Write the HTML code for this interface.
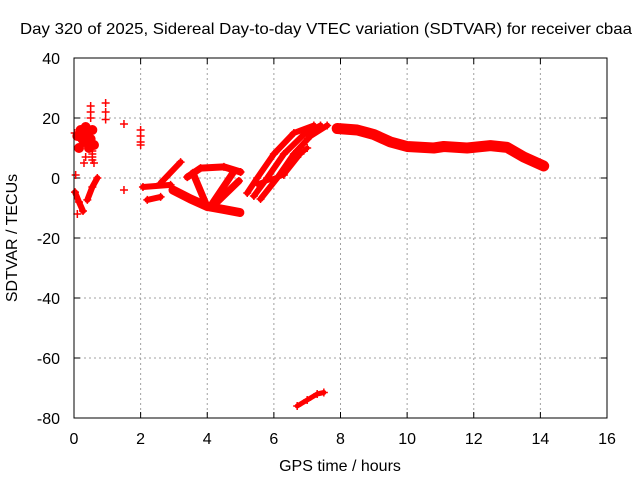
<!DOCTYPE html>
<html><head><meta charset="utf-8"><style>
body{margin:0;background:#fff}
svg{font-family:"Liberation Sans",sans-serif;font-size:16px}
</style></head><body>
<svg id="c" width="640" height="480">
<text x="326" y="34" text-anchor="middle" textLength="612" lengthAdjust="spacingAndGlyphs">Day 320 of 2025, Sidereal Day-to-day VTEC variation (SDTVAR) for receiver cbaa</text>
<text x="340" y="471" text-anchor="middle">GPS time / hours</text>
<text transform="translate(17,238) rotate(-90)" text-anchor="middle">SDTVAR / TECUs</text>
<g id="grid"></g><g id="marks"></g>
<rect x="74" y="58" width="533" height="360" fill="none" stroke="#000"/>
</svg>
<script>
const xTicks=[0,2,4,6,8,10,12,14,16];
const yTicks=[40,20,0,-20,-40,-60,-80];
const mainX=[7.9,8.5,9,9.5,10,10.8,11.1,11.8,12.5,13,13.5,14.1];
const mainY=[16.5,16,14.5,12,10.5,10,10.5,10,10.8,10.2,7,4];
const riseAX=[5.2,5.5,6,6.6,7.2];const riseAY=[-5,0,8,15,17.5];
const riseBX=[5.4,5.8,6.3,6.9,7.4];const riseBY=[-6,0,8,14.5,17.5];
const riseCX=[5.6,6.1,6.6,7.1,7.6];const riseCY=[-7,0,8,14,17.5];
const riseDX=[5.5,6.3,6.8,7.0];const riseDY=[-2,1,8,10];
const bandX=[2.97,3.5,4,4.5,4.98];const bandY=[-4,-7,-9.5,-10.5,-11.5];
const arcX=[3.4,3.8,4.5,5];const arcY=[0.3,3.3,3.7,2];
const diag1X=[3.57,4.0];const diag1Y=[1.7,-9.7];
const diag2X=[4.77,4.08];const diag2Y=[1.7,-9.7];
const diag3X=[4.3,4.95];const diag3Y=[-8,-1];
const s1X=[2.07,2.9];const s1Y=[-3,-2.3];
const s2X=[2.2,2.6];const s2Y=[-7.3,-6.3];
const s3X=[2.6,3.2];const s3Y=[-1.7,5.3];
const dipX=[0.03,0.15,0.27];const dipY=[-4.7,-8,-11];
const upX=[0.4,0.55,0.7];const upY=[-7.3,-3,0];
const lowX=[6.7,7.0,7.3,7.5];const lowY=[-76,-74,-72,-71.5];
const clusterX=[0.1,0.2,0.3,0.4,0.5,0.6,0.15,0.35,0.55,0.45,0.25];
const clusterY=[14,16,12,15,13,11,10,17,16,10,13];
const dotX=[0.5,0.5,0.5,0.55,0.55,0.55,0.55,0.95,0.95,0.95,1.5,1.5,2.0,2.0,2.0,2.0,0.6,0.3,0.35,0.05,0.02,0.1];
const dotY=[24,22,20,9,8,7,6,25,22,19.5,18,-4,16,14,12,11,5,5,7,1,15,-12];
const W=[11,6,6,6,5,9,7,7,7,7,6,6,6,6,6,5];
const X=v=>74+v*533/16, Y=v=>178-v*3;
const NS='http://www.w3.org/2000/svg';
const g=document.getElementById('grid'),m=document.getElementById('marks');
function el(t,a,p){const e=document.createElementNS(NS,t);for(const k in a)e.setAttribute(k,a[k]);p.appendChild(e);return e;}
xTicks.forEach(t=>{const x=X(t);
 if(t>0&&t<16){const l=el('line',{x1:x,y1:58,x2:x,y2:418,stroke:'#a0a0a0','stroke-dasharray':'2,3'},g);}
 el('line',{x1:x,y1:418,x2:x,y2:412,stroke:'#000'},g);el('line',{x1:x,y1:58,x2:x,y2:64,stroke:'#000'},g);
 const tx=el('text',{x:x,y:444,'text-anchor':'middle'},g);tx.textContent=t;});
yTicks.forEach(t=>{const y=Y(t);
 if(t<40&&t>-80){const l=el('line',{x1:74,y1:y,x2:607,y2:y,stroke:'#a0a0a0','stroke-dasharray':'2,3'},g);}
 el('line',{x1:74,y1:y,x2:80,y2:y,stroke:'#000'},g);el('line',{x1:607,y1:y,x2:601,y2:y,stroke:'#000'},g);
 const tx=el('text',{x:60,y:y+6,'text-anchor':'end'},g);tx.textContent=t;});
const tracks=[[mainX,mainY],[riseAX,riseAY],[riseBX,riseBY],[riseCX,riseCY],[riseDX,riseDY],[bandX,bandY],[arcX,arcY],[diag1X,diag1Y],[diag2X,diag2Y],[diag3X,diag3Y],[s1X,s1Y],[s2X,s2Y],[s3X,s3Y],[dipX,dipY],[upX,upY],[lowX,lowY]];
function plus(x,y){const p=el('path',{d:`M${X(x)-4},${Y(y)}h8M${X(x)},${Y(y)-4}v8`,stroke:'#f00','stroke-width':1.5},m);
 }
tracks.forEach((tr,i)=>{const [xs,ys]=tr;
 const pl=el('polyline',{points:xs.map((v,j)=>X(v)+','+Y(ys[j])).join(' '),fill:'none',stroke:'#f00','stroke-width':W[i]||5,'stroke-linejoin':'round','stroke-linecap':'round'},m);
 
 xs.forEach((v,j)=>plus(v,ys[j]));});
clusterX.forEach((v,i)=>{const c=el('circle',{cx:X(v),cy:Y(clusterY[i]),r:5,fill:'#f00'},m);plus(v,clusterY[i]);});
dotX.forEach((v,i)=>plus(v,dotY[i]));
</script>
</body></html>
